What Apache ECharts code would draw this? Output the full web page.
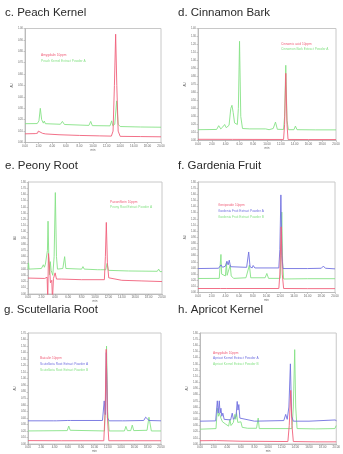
<!DOCTYPE html>
<html>
<head>
<meta charset="utf-8">
<script src="https://cdn.jsdelivr.net/npm/echarts@6/dist/echarts.min.js"></script>
<style>
html,body{margin:0;padding:0;background:#fff;}
#chart{width:343px;height:454px;}
</style>
</head>
<body>
<div id="chart"></div>
<script>
// ---------- Panel titles ----------
const panelTitles = ['c. Peach Kernel', 'd. Cinnamon Bark', 'e. Peony Root', 'f. Gardenia Fruit', 'g. Scutellaria Root', 'h. Apricot Kernel'];

// ---------- Series names ----------
const cNames = ['Amygdalin 10ppm', 'Peach Kernel Extract Powder A'];
const dNames = ['Cinnamic acid 10ppm', 'Cinnamon Bark Extract Powder A'];
const eNames = ['Paeoniflorin 10ppm', 'Peony Root Extract Powder A'];
const fNames = ['Geniposide 10ppm', 'Gardenia Fruit Extract Powder A', 'Gardenia Fruit Extract Powder B'];
const gNames = ['Baicalin 10ppm', 'Scutellaria Root Extract Powder A', 'Scutellaria Root Extract Powder B'];
const hNames = ['Amygdalin 10ppm', 'Apricot Kernel Extract Powder A', 'Apricot Kernel Extract Powder B'];

// ---------- Axis ranges (retention time min, response) ----------
const xMax = 20;
const xStep = 2;
const yMaxes = [100, 140, 180, 180, 170, 180];
const yStep = 10;

// ---------- c. Peach Kernel ----------
const peachStd = [[0,7.6],[1.5,7.8],[1.85,8.2],[1.96,10],[2.1,8.5],[2.6,8],[3.05,7.5],[3.1,8.8],[3.2,7.2],[5,6.8],[8,6.2],[11,5.8],[12.7,5.6],[12.95,10],[13.15,50],[13.33,95],[13.5,50],[13.7,10],[14,5.4],[17,5.2],[20,5]];
const peachA = [[0,16.5],[1.8,16.6],[2.05,19],[2.25,30],[2.45,20],[2.7,17],[2.84,18.8],[3.0,16.5],[5.2,16],[5.5,18.5],[5.8,15.8],[9.4,15],[9.66,18.5],[9.9,14.8],[12.5,14.6],[12.75,19],[12.9,14.8],[13.2,16],[13.48,36.5],[13.7,16],[14,14],[17,13.6],[20,13.4]];

// ---------- d. Cinnamon Bark ----------
const cinnStd = [[0,1.5],[5,1.4],[10,1.3],[12.4,1.3],[12.55,20],[12.72,84],[12.9,20],[13.05,1.3],[16,1.2],[20,1.2]];
const cinnA = [[0,13.5],[2.7,13.8],[3.0,18.5],[3.3,14.5],[3.6,17],[3.86,20],[4.1,16],[4.5,19],[4.75,40],[4.92,44],[5.1,35],[5.3,22],[5.5,24],[5.7,20],[5.85,40],[6.02,124],[6.2,30],[6.45,15],[7.5,14.5],[9.8,14.5],[9.98,15.8],[10.3,13.5],[10.9,15],[11.23,23],[11.5,14],[12.4,13.8],[12.55,30],[12.72,94],[12.9,25],[13.1,13.5],[13.9,13.5],[14.12,18],[14.35,13.5],[17,13.3],[20,13.3]];

// ---------- e. Peony Root ----------
const paeonStd = [[0,25.6],[2.5,25],[2.85,27],[2.95,-10],[3.05,65],[3.2,45],[3.35,18],[3.55,22],[3.65,-10],[3.8,25],[4.05,34],[4.25,24],[5,24],[8,23],[11.4,23],[11.55,60],[11.69,115],[11.85,50],[12.05,26],[14,22],[17,21],[20,20]];
const paeonA = [[0,40],[0.08,50],[0.15,40],[2.0,41],[2.29,47],[2.45,43],[2.6,48],[2.75,45],[2.9,70],[2.99,117],[3.1,60],[3.2,31],[3.33,52],[3.45,38],[3.7,30],[3.9,60],[4.08,163],[4.25,60],[4.4,40],[5.2,41],[5.47,60],[5.65,41],[8,40],[8.2,44],[8.4,40],[10.4,39],[10.6,42],[10.8,39],[11.6,39],[11.8,49],[12,38],[15,37],[19.3,36.5],[19.5,40],[19.7,36],[20,36]];

// ---------- f. Gardenia Fruit ----------
const gardStd = [[0,6.5],[3.25,6.5],[3.35,4],[3.45,6.5],[4.2,6.5],[4.3,5],[4.4,6.5],[11.8,6.5],[11.95,30],[12.14,107],[12.3,30],[12.5,6.5],[16,6.3],[20,6.3]];
const gardA = [[0,39],[3.0,39.5],[3.35,45],[3.6,41],[4.0,43],[4.22,51],[4.4,45],[4.56,52.6],[4.75,42],[5,40],[7.1,41],[7.4,66],[7.6,42],[7.9,40],[8.05,44],[8.3,40],[11.8,40],[11.95,70],[12.1,159],[12.25,60],[12.4,39],[16,39],[18.0,39.5],[18.3,43],[18.6,39.5],[20,38.5]];
const gardB = [[0,22.8],[3.1,23],[3.35,62],[3.45,30],[3.6,28],[4.0,27],[4.15,48.8],[4.25,28],[4.5,27],[4.7,44.5],[4.85,27],[5.2,23],[7.0,24],[7.1,27],[7.5,44.5],[7.7,24],[9.8,24],[10.05,31],[10.3,23],[12.0,23],[12.1,60],[12.23,131],[12.35,50],[12.5,22],[16,22.5],[20,22.5]];

// ---------- g. Scutellaria Root ----------
const baicStd = [[0,5.2],[5,5],[11.4,5],[11.6,50],[11.76,145],[11.95,40],[12.15,5],[16,5],[20,5]];
const scutA = [[0,35.5],[3.8,35.5],[4.02,38],[4.3,35.5],[5.9,36],[6.13,39],[6.4,36],[11.2,36],[11.46,66],[11.62,45],[11.78,140],[11.95,40],[12.2,35.5],[14.2,35.5],[14.4,38],[14.6,35.5],[17.4,36],[17.69,41],[17.9,38],[18.2,36],[20,35.5]];
const scutB = [[0,20],[5.9,20.5],[6.13,27.5],[6.35,21],[11.5,20],[11.65,60],[11.81,150],[11.98,50],[12.2,20],[14.5,20],[14.72,27],[14.95,20.5],[15.45,20.5],[15.68,29],[15.9,20.5],[17.9,21],[18.1,35],[18.19,41],[18.4,38],[18.55,20],[20,20]];

// ---------- h. Apricot Kernel ----------
const apricotStd = [[0,5.3],[2.0,5.5],[2.2,8],[2.4,5.5],[6,4.5],[12.9,4],[13.1,30],[13.32,87],[13.5,30],[13.7,4],[17,3.5],[20,3.5]];
const apricotA = [[0,37],[2.3,37.5],[2.54,70],[2.68,50],[2.83,70],[2.95,50],[3.07,58],[3.2,45],[3.35,50],[3.55,40],[4.5,39],[4.73,50],[4.9,40],[5.3,45],[5.46,69],[5.58,55],[5.7,64],[5.85,42],[6.1,40],[8,37],[12.3,38],[12.58,48],[12.8,40],[13.05,60],[13.27,130],[13.45,45],[13.7,37],[16,37],[19.9,39],[20,37]];
const apricotB = [[0,24],[2.35,25],[2.54,58],[2.7,45],[2.85,50],[3.07,42],[3.3,36],[3.8,32],[4.2,29],[4.39,40],[4.55,30],[4.9,35],[5.12,48],[5.25,40],[5.35,51],[5.55,35],[6.0,36],[6.2,27],[7,25.5],[8.3,25.5],[8.54,42],[8.7,25],[13.5,25],[13.7,60],[13.9,153],[14.05,60],[14.25,25],[17,24.5],[19.8,25],[20,30]];

// ---------- layout / style ----------
const RED = '#f0607a', GREEN = '#86e286', BLUE = '#7070e0';
const grids = [
  {left:25, top:28.5, width:136, height:114},
  {left:198, top:28.5, width:138, height:112},
  {left:28, top:182, width:134, height:112},
  {left:198, top:182, width:137, height:110.5},
  {left:28, top:333, width:133, height:114},
  {left:200, top:333, width:137, height:114}
];
const titlePos = [
  {left:5, top:7}, {left:178, top:7},
  {left:5, top:159.5}, {left:178, top:159.5},
  {left:4, top:304}, {left:178, top:304}
];
const legendPos = [
  {left:41, top:54}, {left:281, top:42.5},
  {left:110, top:200.5}, {left:218, top:204},
  {left:40, top:357}, {left:213, top:351.5}
];
const panels = [
  {names:cNames, data:[peachStd, peachA], colors:[RED, GREEN]},
  {names:dNames, data:[cinnStd, cinnA], colors:[RED, GREEN]},
  {names:eNames, data:[paeonStd, paeonA], colors:[RED, GREEN]},
  {names:fNames, data:[gardStd, gardA, gardB], colors:[RED, BLUE, GREEN]},
  {names:gNames, data:[baicStd, scutA, scutB], colors:[RED, BLUE, GREEN]},
  {names:hNames, data:[apricotStd, apricotA, apricotB], colors:[RED, BLUE, GREEN]}
];

const option = {
  animation:false,
  backgroundColor:'#fff',
  title: panelTitles.map((t,i)=>({
    text:t, left:titlePos[i].left, top:titlePos[i].top, padding:0,
    textStyle:{fontSize:11.5, fontWeight:'normal', color:'#2a2a2a', fontFamily:'Liberation Sans, Arial, sans-serif'}
  })),
  grid: grids.map(g=>Object.assign({show:true, borderColor:'#c8c8c8', borderWidth:1, backgroundColor:'transparent'}, g)),
  xAxis: grids.map((g,i)=>({
    type:'value', gridIndex:i, min:0, max:xMax, interval:xStep,
    name:'min', nameLocation:'middle', nameGap:6,
    nameTextStyle:{fontSize:3, color:'#666'},
    axisLine:{lineStyle:{color:'#bbb', width:1}},
    axisTick:{length:1.5, lineStyle:{color:'#999', width:0.5}},
    axisLabel:{fontSize:3, color:'#666', margin:2, formatter:v=>v.toFixed(2)},
    splitLine:{show:false}
  })),
  yAxis: grids.map((g,i)=>({
    type:'value', gridIndex:i, min:0, max:yMaxes[i], interval:yStep,
    name:'AU', nameLocation:'middle', nameGap:8,
    nameTextStyle:{fontSize:3, color:'#666'},
    axisLine:{show:true, lineStyle:{color:'#bbb', width:1}},
    axisTick:{show:true, length:1.5, lineStyle:{color:'#999', width:0.5}},
    axisLabel:{fontSize:2.6, color:'#666', margin:2, formatter:v=>(v/100).toFixed(2)},
    splitLine:{show:false}
  })),
  legend: panels.map((p,i)=>({
    left:legendPos[i].left - 5, top:legendPos[i].top, orient:'vertical',
    icon:'none', itemWidth:0, itemHeight:3, itemGap:2.6, padding:0, selectedMode:false,
    textStyle:{fontSize:3.2, fontFamily:'Liberation Sans, Arial, sans-serif'},
    data:p.names.map((n,k)=>({name:n, textStyle:{color:p.colors[k]}}))
  })),
  series: []
};

panels.forEach((p,i)=>{
  // draw order: extracts first, standard (red) on top
  const order = p.data.map((_,k)=>k).reverse();
  order.forEach(k=>{
    option.series.push({
      type:'line', name:p.names[k], xAxisIndex:i, yAxisIndex:i,
      data:p.data[k], symbol:'none', smooth:false, clip:true,
      lineStyle:{color:p.colors[k], width:0.9},
      itemStyle:{color:p.colors[k]}
    });
  });
});

const chart = echarts.init(document.getElementById('chart'));
chart.setOption(option);
</script>
</body>
</html>
